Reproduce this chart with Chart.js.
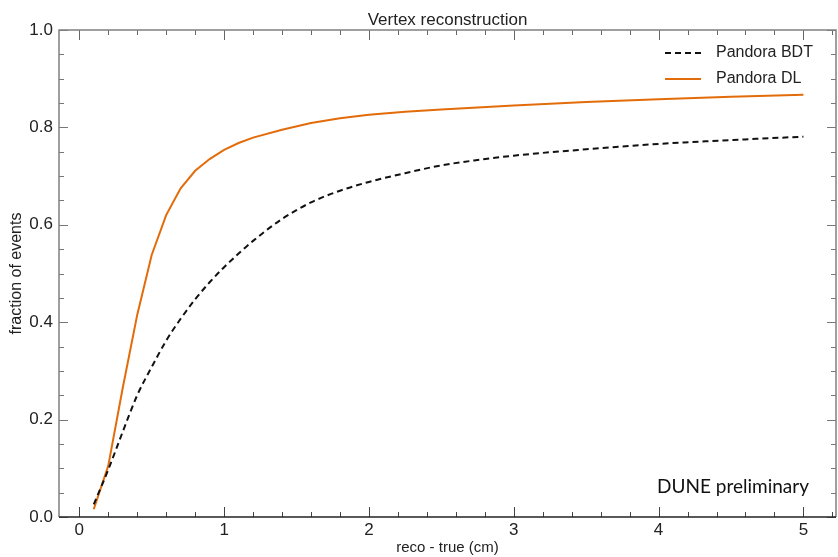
<!DOCTYPE html>
<html>
<head>
<meta charset="utf-8">
<title>Vertex reconstruction</title>
<script src="https://cdn.jsdelivr.net/npm/chart.js@4.4.1/dist/chart.umd.min.js"></script>
<style>
  body { margin: 0; background: #fff; }
  #wrap { width: 838px; height: 557px; position: relative; }
</style>
</head>
<body>
<div id="wrap"><canvas id="myChart"></canvas></div>
<script>
// data
const recoTrue = [0.1, 0.2, 0.3, 0.4, 0.5, 0.6, 0.7, 0.8, 0.9, 1.0, 1.1, 1.2, 1.4, 1.6, 1.8, 2.0, 2.25, 2.5, 2.75, 3.0, 3.5, 4.0, 4.5, 5.0];
const pandoraBDT = [0.026, 0.097, 0.175, 0.25, 0.308, 0.362, 0.407, 0.447, 0.482, 0.513, 0.541, 0.567, 0.612, 0.646, 0.670, 0.688, 0.706, 0.722, 0.733, 0.742, 0.755, 0.766, 0.774, 0.781];
const pandoraDL = [0.016, 0.105, 0.265, 0.415, 0.538, 0.62, 0.675, 0.711, 0.735, 0.754, 0.768, 0.779, 0.795, 0.809, 0.819, 0.826, 0.832, 0.837, 0.841, 0.845, 0.852, 0.858, 0.863, 0.867];

const xMajor = [0, 1, 2, 3, 4, 5];
const yMajor = [0, 0.2, 0.4, 0.6, 0.8, 1.0];

const chartTitle = 'Vertex reconstruction';
const fontName = "'Liberation Sans', Arial, sans-serif";

function toPoints(xs, ys) {
  return xs.map((x, i) => ({ x: x, y: ys[i] }));
}

// inward ticks on all four sides, frame, title, legend and label
const framePlugin = {
  id: 'frame',
  afterDraw(chart) {
    const ctx = chart.ctx;
    const a = chart.chartArea;
    const xs = chart.scales.x;
    const ys = chart.scales.y;
    ctx.save();

    // ticks
    ctx.lineWidth = 1;
    for (let v = 0; v <= 5.2001; v += 0.2) {
      const px = Math.round(xs.getPixelForValue(v)) + 0.5;
      const major = Math.abs(v - Math.round(v)) < 0.001;
      const len = major ? 10 : 5;
      ctx.strokeStyle = '#444';
      ctx.beginPath();
      ctx.moveTo(px, a.bottom); ctx.lineTo(px, a.bottom - len);
      ctx.stroke();
      ctx.strokeStyle = '#666';
      ctx.beginPath();
      ctx.moveTo(px, a.top); ctx.lineTo(px, a.top + len);
      ctx.stroke();
    }
    for (let v = 0; v <= 1.0001; v += 0.05) {
      const py = Math.round(ys.getPixelForValue(v)) + 0.5;
      const major = Math.abs(v * 5 - Math.round(v * 5)) < 0.001;
      const len = major ? 9 : 5;
      ctx.strokeStyle = '#777';
      ctx.beginPath();
      ctx.moveTo(a.left, py); ctx.lineTo(a.left + len, py);
      ctx.moveTo(a.right, py); ctx.lineTo(a.right - len, py);
      ctx.stroke();
    }

    // frame
    ctx.lineWidth = 1.5;
    ctx.strokeStyle = '#808080';
    ctx.beginPath();
    ctx.moveTo(a.left, a.bottom); ctx.lineTo(a.left, a.top);
    ctx.lineTo(a.right, a.top); ctx.lineTo(a.right, a.bottom);
    ctx.stroke();
    ctx.strokeStyle = '#222';
    ctx.beginPath();
    ctx.moveTo(a.left, a.bottom); ctx.lineTo(a.right, a.bottom);
    ctx.stroke();

    // title, centred over the plot
    ctx.font = '17px ' + fontName;
    ctx.fillStyle = '#222';
    ctx.textAlign = 'center';
    ctx.textBaseline = 'alphabetic';
    ctx.fillText(chartTitle, (a.left + a.right) / 2, 25);

    // legend
    const sets = chart.data.datasets;
    ctx.font = '16px ' + fontName;
    ctx.textBaseline = 'middle';
    ctx.textAlign = 'left';
    sets.forEach((ds, i) => {
      const y = a.top + 23 + i * 26;
      ctx.strokeStyle = ds.borderColor;
      ctx.lineWidth = 2;
      ctx.setLineDash(ds.borderDash || []);
      ctx.beginPath();
      ctx.moveTo(a.right - 171, y); ctx.lineTo(a.right - 135, y);
      ctx.stroke();
      ctx.setLineDash([]);
      ctx.fillStyle = '#222';
      ctx.fillText(ds.label, a.right - 120, y);
    });

    // DUNE preliminary
    ctx.font = "19px Lato, 'Open Sans', sans-serif";
    ctx.textAlign = 'right';
    ctx.textBaseline = 'alphabetic';
    ctx.fillStyle = '#111';
    ctx.fillText('DUNE preliminary', a.right - 27, a.bottom - 24);

    ctx.restore();
  }
};

const ctx = document.getElementById('myChart');

new Chart(ctx, {
  type: 'line',
  data: {
    datasets: [{
      label: 'Pandora BDT',
      data: toPoints(recoTrue, pandoraBDT),
      borderColor: '#111111',
      borderWidth: 2,
      borderDash: [6, 4],
      pointRadius: 0,
      cubicInterpolationMode: 'monotone'
    }, {
      label: 'Pandora DL',
      data: toPoints(recoTrue, pandoraDL),
      borderColor: '#e36c0a',
      borderWidth: 2,
      pointRadius: 0,
      tension: 0
    }]
  },
  options: {
    responsive: true,
    maintainAspectRatio: false,
    animation: false,
    layout: { padding: { left: 0, right: 2, top: 30, bottom: 0 } },
    plugins: {
      legend: { display: false },
      tooltip: { enabled: false },
      title: { display: false }
    },
    scales: {
      x: {
        type: 'linear',
        min: -0.14,
        max: 5.225,
        afterFit: s => { s.height = 40; },
        afterBuildTicks: s => { s.ticks = xMajor.map(v => ({ value: v })); },
        grid: { display: false, drawTicks: false },
        border: { display: false },
        ticks: {
          padding: 3,
          color: '#222',
          font: { family: fontName, size: 17 },
          callback: v => v.toString()
        },
        title: {
          display: true,
          text: 'reco - true (cm)',
          color: '#222',
          font: { family: fontName, size: 15 },
          padding: { top: 0, bottom: 0 }
        }
      },
      y: {
        type: 'linear',
        min: 0,
        max: 1,
        afterFit: s => { s.width = 59; },
        afterBuildTicks: s => { s.ticks = yMajor.map(v => ({ value: v })); },
        grid: { display: false, drawTicks: false },
        border: { display: false },
        ticks: {
          padding: 6,
          color: '#222',
          font: { family: fontName, size: 17 },
          callback: v => v.toFixed(1)
        },
        title: {
          display: true,
          text: 'fraction of events',
          color: '#222',
          font: { family: fontName, size: 16 },
          padding: { top: 7, bottom: 0 }
        }
      }
    }
  },
  plugins: [framePlugin]
});
</script>
</body>
</html>
